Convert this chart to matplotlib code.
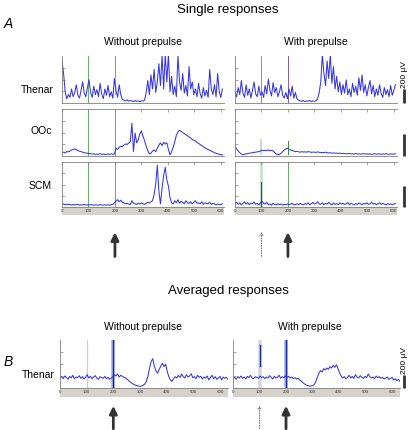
import numpy as np
import matplotlib
matplotlib.use("Agg")
import matplotlib.pyplot as plt
from matplotlib.patches import Rectangle

plt.rcParams['font.family'] = ['Liberation Sans', 'DejaVu Sans']

# ---- data (in microvolts) ----
single_ticks = [0, 100, 200, 300, 400, 500, 600]
avg_ticks = [0, 100, 200, 300, 400, 500, 600]
single_tmax = 606   # last sample (ms)
avg_tmax = 636

thenar_without = [600, 420, 160, 60, 120, 80, 200, 90, 150, 260, 110, 70, 180, 300, 140, 90, 220,
                  330, 150, 80, 240, 120, 190, 90, 280, 130, 60, 200, 110, 250, 90, 160, 70,
                  350, 180, 80, 260, 120, 50, 40, 30, 45, 25, 35, 30, 20, 35, 25, 30, 20, 30, 25, 40,
                  150, 320, 120, 400, 200, 480, 150, 300, 560, 250, 680, 200, 700, 300, 690, 160,
                  380, 120, 240, 90, 680, 300, 180, 420, 140, 250, 100, 520, 200, 300, 120, 200,
                  90, 280, 130, 70, 220, 100, 180, 80, 480, 200, 120, 260, 90, 420, 160, 80, 200]
thenar_with = [150, 90, 220, 120, 320, 140, 80, 260, 110, 200, 70, 180, 300, 130, 90, 240, 110,
               160, 80, 250, 130, 340, 180, 100, 290, 150, 220, 90, 160, 260, 110, 70, 150, 60,
               200, 100, 240, 70, 150, 60, 40, 30, 25, 35, 20, 30, 25, 35, 20, 30, 25, 30, 60,
               150, 300, 690, 420, 250, 600, 350, 690, 280, 520, 200, 380, 160, 300, 120, 260, 140,
               330, 120, 200, 90, 280, 150, 240, 110, 360, 180, 400, 150, 260, 100, 220, 320,
               130, 250, 90, 200, 110, 260, 140, 80, 220, 120, 190, 90, 250, 110, 180, 260]
ooc_without = [30, 35, 28, 40, 38, 45, 55, 60, 65, 58, 50, 45, 40, 35, 30, 28, 25,
               22, 20, 18, 20, 15, 18, 16, 20, 15, 18, 14, 16, 18, 15, 20, 16, 18,
               70, 60, 80, 90, 85, 100, 110, 105, 120, 130, 300, 40, 210, 120, 150, 200, 230,
               180, 140, 90, 50, 20, 25, 45, 55, 40, 70, 100, 120, 95, 125, 110, 120, 60, 10,
               40, 80, 130, 190, 220, 235, 225, 215, 205, 195, 185, 175, 165, 150, 145, 135,
               125, 115, 105, 95, 85, 75, 68, 60, 52, 45, 38, 30, 25, 20, 15, 12, 10]
ooc_with = [85, 65, 45, 30, 18, 12, 15, 20, 22, 25, 28, 30, 33, 35, 38, 40, 45,
            55, 48, 52, 50, 55, 48, 52, 45, 30, 18, 12, 15, 25, 40, 55, 65, 70, 60, 55, 50,
            45, 40, 42, 38, 35, 40, 36, 38, 35, 40, 38, 33, 36, 35, 32, 38, 34, 30, 33, 31, 35, 30,
            28, 30, 26, 28, 25, 27, 24, 26, 22, 25, 23, 20, 22, 24, 20, 21, 18, 22, 19, 20, 17,
            19, 21, 18, 20, 17, 19, 16, 18, 20, 17, 19, 18, 16, 19, 17, 20, 18, 16, 19, 17, 18, 20]
scm_without = [25, 30, 20, 28, 22, 25, 18, 24, 20, 22, 26, 18, 22, 20, 24, 19, 21, 18, 22, 20,
               17, 21, 19, 18, 22, 20, 18, 21, 19, 20, 18, 22, 25,
               40, 55, 70, 50, 65, 45, 40, 30, 35, 28, 25, 60, 35, 30, 25, 35, 28, 40, 30, 25,
               35, 45, 38, 50, 60, 120, 220, 400, 150, 30, 180, 300, 380, 260, 200, 90, 40,
               30, 60, 40, 70, 35, 55, 45, 30, 60, 40, 35, 50, 30, 45, 60, 35, 40, 30, 50, 25,
               40, 35, 30, 45, 25, 35, 30, 20, 28, 25, 22, 30]
scm_with = [30, 45, 25, 40, 20, 35, 50, 28, 42, 22, 38, 30, 48, 25, 35, 20, 40, 55, 35, 28,
            45, 22, 30, 18, 35, 25, 20, 30, 22, 28, 18, 25, 20, 30, 22, 28, 35, 20, 25, 30,
            22, 35, 28, 20, 32, 25, 40, 22, 30, 45, 28, 35, 50, 30, 25, 40, 22, 35, 28, 45,
            30, 20, 38, 25, 32, 22, 40, 28, 35, 25, 30, 42, 22, 35, 28, 20, 32, 25, 38, 30,
            22, 35, 28, 40, 25, 30, 45, 28, 35, 22, 30, 40, 25, 35, 28, 20, 32, 25, 30, 22, 28, 35]
avg_without = [150, 170, 140, 180, 160, 130, 175, 150, 190, 140, 165, 155, 185, 145, 170, 135, 160,
               200, 150, 175, 140, 165, 185, 150, 130, 170, 155, 145, 175, 140, 160, 130, 150,
               170, 200, 180, 210, 165, 190, 175, 160, 150, 130, 110, 90, 70, 55, 45, 35, 30, 25,
               30, 40, 60, 100, 180, 300, 400, 440, 320, 260, 220, 280, 330, 370, 320, 360, 250,
               170, 120, 100, 140, 170, 150, 190, 160, 210, 170, 150, 200, 165, 180, 215, 155,
               170, 140, 190, 160, 175, 135, 165, 150, 180, 120, 160, 190, 140, 170, 130, 150,
               175, 120, 165, 145, 160, 130, 150]
avg_with = [140, 160, 130, 170, 150, 180, 145, 165, 135, 175, 155, 190, 150, 140, 170, 160, 145,
            180, 155, 170, 140, 165, 150, 185, 160, 135, 175, 150, 165, 190, 145, 170, 155, 180,
            160, 175, 150, 165, 140, 155, 135, 145, 120, 100, 80, 60, 45, 35, 30, 28, 35, 50,
            90, 160, 220, 260, 240, 290, 270, 300, 280, 320, 300, 340, 310, 350, 290, 230, 180,
            150, 170, 140, 160, 190, 150, 175, 145, 200, 165, 150, 185, 160, 145, 175, 155, 210,
            170, 150, 165, 140, 180, 155, 170, 145, 160, 135, 150, 165, 130, 145, 160, 120, 140,
            110, 130, 95, 120]

# stimulus markers: (time, colour, ymin, ymax, width, zorder)
green = '#4f9e4f'
thenar_without_marks = [(100, green, 0, 1, 0.6, 1), (200, green, 0.55, 1, 0.6, 1),
                        (200, '#e2b27a', 0.2, 0.55, 0.8, 1)]
thenar_with_marks = [(100, green, 0, 1, 0.6, 1), (200, '#8a5a8a', 0, 1, 0.7, 1)]
ooc_without_marks = [(100, green, 0, 1, 0.6, 1), (200, green, 0, 1, 0.6, 1)]
ooc_with_marks = [(100, '#b8dcb8', 0.05, 0.35, 1.2, 1), (200, '#3a8a3a', 0.05, 0.32, 0.7, 3)]
scm_without_marks = [(100, green, 0, 1, 0.6, 1), (200, green, 0, 1, 0.6, 1)]
scm_with_marks = [(100, '#cfe5cf', 0, 1, 2.2, 1), (100, '#2a3ad0', 0.02, 0.55, 0.8, 3),
                  (200, green, 0, 1, 0.6, 1)]
avg_without_marks = [(100, '#e8c8a0', 0, 1, 0.8, 1), (200, '#a8b0ec', 0, 1, 2.6, 1),
                     (200, '#1a2aa0', 0, 1, 1.0, 3)]
avg_with_marks = [(100, '#d6d6dc', 0, 1, 2.6, 1), (100, '#1a2aa0', 0.45, 0.9, 1.0, 3),
                  (200, '#a8b0ec', 0, 1, 2.6, 1), (200, '#1a2aa0', 0, 1, 1.0, 3)]

trace_color = '#3636e6'
W, H = 409, 430
fig = plt.figure(figsize=(W / 100, H / 100), dpi=100)


def box(x0, y0, x1, y1):
    # pixel box (top-left origin) -> figure fraction rect
    return [x0 / W, 1 - y1 / H, (x1 - x0) / W, (y1 - y0) / H]


def panel(rect, values, tmax, xmax, ymax, marks, ticks, top_spine, labels):
    ax = fig.add_axes(rect)
    t = np.linspace(0, tmax, len(values))
    ax.plot(t, values, color=trace_color, lw=0.75, zorder=2)
    for x, c, y0, y1, lw, z in marks:
        ax.axvline(x, y0, y1, color=c, lw=lw, zorder=z)
    ax.set_xlim(0, xmax)
    ax.set_ylim(0, ymax)
    ax.set_xticks(ticks)
    ax.set_yticks([ymax * 0.25, ymax * 0.5, ymax * 0.75])
    ax.set_yticklabels([])
    for s in ['left', 'bottom', 'top']:
        ax.spines[s].set_color('#808080')
        ax.spines[s].set_linewidth(0.6)
    ax.spines['right'].set_visible(False)
    ax.spines['top'].set_visible(top_spine)
    ax.tick_params(axis='y', direction='in', length=2, width=0.5, color='#808080')
    ax.tick_params(axis='x', direction='in', length=2, width=0.5, color='#808080',
                   top=top_spine, bottom=False, labelbottom=labels,
                   labelsize=3.2, labelcolor='#333333', pad=1.2)
    if labels:
        ax.add_patch(Rectangle((0, -0.18), 1, 0.18, transform=ax.transAxes,
                               clip_on=False, facecolor='#d5d2cc', edgecolor='none', zorder=0))
    return ax


def scale_bar(ax, ymax, label, xpos):
    tr = ax.get_yaxis_transform()
    ax.plot([xpos, xpos], [0, 200], transform=tr, color='#333333', lw=2.0,
            clip_on=False, solid_capstyle='butt')
    if label:
        ax.text(xpos, 215, '200 \u00b5V', transform=tr, rotation=90, fontsize=6,
                ha='center', va='bottom')


# single responses
ax_tl = panel(box(62, 56, 224, 103), thenar_without, single_tmax, 612, 670,
              thenar_without_marks, single_ticks, False, False)
ax_tr = panel(box(235, 56, 397, 103), thenar_with, single_tmax, 612, 670,
              thenar_with_marks, single_ticks, False, False)
ax_ol = panel(box(62, 109, 224, 156), ooc_without, single_tmax, 612, 430,
              ooc_without_marks, single_ticks, True, False)
ax_or = panel(box(235, 109, 397, 156), ooc_with, single_tmax, 612, 430,
              ooc_with_marks, single_ticks, True, False)
ax_sl = panel(box(62, 162, 224, 207), scm_without, single_tmax, 612, 430,
              scm_without_marks, single_ticks, True, True)
ax_sr = panel(box(235, 162, 397, 207), scm_with, single_tmax, 612, 430,
              scm_with_marks, single_ticks, True, True)
scale_bar(ax_tr, 670, True, 1.045)
scale_bar(ax_or, 430, False, 1.045)
scale_bar(ax_sr, 430, False, 1.045)

# averaged responses
ax_al = panel(box(60, 340, 228, 388), avg_without, avg_tmax, 630, 720,
              avg_without_marks, avg_ticks, False, True)
ax_ar = panel(box(233, 340, 400, 388), avg_with, avg_tmax, 630, 720,
              avg_with_marks, avg_ticks, False, True)
scale_bar(ax_ar, 720, True, 1.025)

# texts
fig.text(228 / W, 1 - 10 / H, 'Single responses', fontsize=9.5, ha='center', va='center')
fig.text(4 / W, 1 - 24 / H, 'A', fontsize=10, style='italic', ha='left', va='center')
fig.text(143 / W, 1 - 42 / H, 'Without prepulse', fontsize=7.5, ha='center', va='center')
fig.text(316 / W, 1 - 42 / H, 'With prepulse', fontsize=7.5, ha='center', va='center')
fig.text(54 / W, 1 - 90 / H, 'Thenar', fontsize=7.5, ha='right', va='center')
fig.text(52 / W, 1 - 131 / H, 'OOc', fontsize=7.5, ha='right', va='center')
fig.text(52 / W, 1 - 186 / H, 'SCM', fontsize=7.5, ha='right', va='center')
fig.text(228 / W, 1 - 291 / H, 'Averaged responses', fontsize=9.5, ha='center', va='center')
fig.text(4 / W, 1 - 362 / H, 'B', fontsize=10, style='italic', ha='left', va='center')
fig.text(143 / W, 1 - 327 / H, 'Without prepulse', fontsize=7.5, ha='center', va='center')
fig.text(310 / W, 1 - 327 / H, 'With prepulse', fontsize=7.5, ha='center', va='center')
fig.text(55 / W, 1 - 375 / H, 'Thenar', fontsize=7.5, ha='right', va='center')

# arrows marking stimulus times
solid = dict(arrowstyle='-|>,head_width=0.22,head_length=0.45', lw=2.0, color='#333333',
             shrinkA=0, shrinkB=0)
dashed = dict(arrowstyle='->,head_width=0.12,head_length=0.2', lw=0.6, color='#666666',
              linestyle=(0, (1.5, 1.5)), shrinkA=0, shrinkB=0)
coords = ('data', 'axes fraction')
ax_sl.annotate('', xy=(200, -0.56), xytext=(200, -1.1), xycoords=coords, textcoords=coords,
               arrowprops=solid, annotation_clip=False)
ax_sr.annotate('', xy=(200, -0.56), xytext=(200, -1.1), xycoords=coords, textcoords=coords,
               arrowprops=solid, annotation_clip=False)
ax_sr.annotate('', xy=(100, -0.56), xytext=(100, -1.1), xycoords=coords, textcoords=coords,
               arrowprops=dashed, annotation_clip=False)
ax_al.annotate('', xy=(200, -0.37), xytext=(200, -0.85), xycoords=coords, textcoords=coords,
               arrowprops=solid, annotation_clip=False)
ax_ar.annotate('', xy=(200, -0.37), xytext=(200, -0.85), xycoords=coords, textcoords=coords,
               arrowprops=solid, annotation_clip=False)
ax_ar.annotate('', xy=(100, -0.37), xytext=(100, -0.85), xycoords=coords, textcoords=coords,
               arrowprops=dashed, annotation_clip=False)

fig.savefig('out.png', dpi=100)
